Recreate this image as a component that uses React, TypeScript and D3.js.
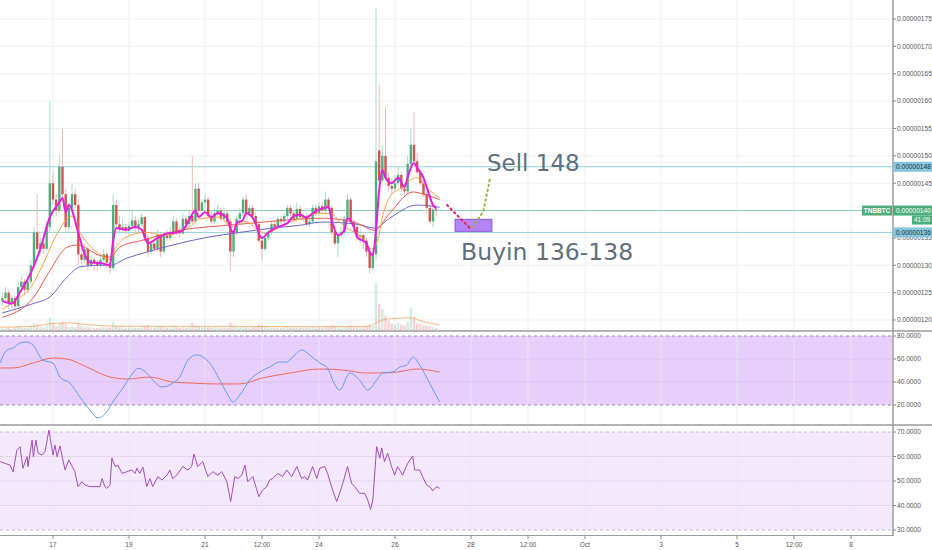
import React from "react";
import * as d3 from "d3";

// ---------- DATA ----------
// 2h candles of TNBBTC, prices in 1e-8 BTC, first bar 2018-09-15 16:00 UTC
// [open, high, low, close]
const candles: [number, number, number, number][] = [
  [123.5, 125, 122.5, 124], [124, 126, 123.5, 125], [125, 125.5, 122, 123], [123, 124.5, 122, 124], [124, 124.5, 121.5, 122.5],
  [122.5, 127, 122, 126], [126, 128, 125.5, 127], [127, 127.5, 124.5, 125.5], [125.5, 128, 125, 127], [127, 131, 126.5, 130],
  [130, 137, 129.5, 136], [136, 143, 132.5, 133], [133, 135, 132, 134], [134, 135, 132, 133], [133, 138, 132.5, 137],
  [137, 160, 136, 145], [145, 147, 141, 142], [142, 143, 139, 140], [140, 150, 139.5, 148], [148, 155, 142, 143],
  [143, 144, 136, 137], [137, 141.5, 136, 140.5], [140.5, 145, 140, 143], [143, 144, 140.5, 141], [141, 142, 130, 132],
  [132, 134, 130, 131], [131, 134, 130.5, 133], [133, 133.5, 129, 130], [130, 132, 129.5, 131], [131, 131.5, 129, 130.5],
  [130.5, 131, 129, 130], [130, 132, 129.5, 131], [131, 133, 130.5, 132], [132, 132.5, 129.5, 130.5], [130.5, 131, 128.5, 129.5],
  [129.5, 143, 129, 141], [141, 142, 137, 137.5], [137.5, 139, 136, 136.5], [136.5, 138.5, 136, 137], [137, 137.5, 135.5, 136.3],
  [136.3, 138, 135.5, 137.2], [137.2, 140, 137, 138.2], [138.2, 139, 136, 136.8], [136.8, 138.5, 136, 137.5], [137.5, 139.5, 137, 138.8],
  [138.8, 139, 134.5, 135], [135, 135.5, 131.5, 132.5], [132.5, 134.5, 132, 134], [134, 135, 132.5, 133], [133, 136.5, 132.5, 135.5],
  [135.5, 136, 131.5, 132.5], [132.5, 136, 132, 135.5], [135.5, 136.5, 134.5, 135], [135, 137, 134.5, 136], [136, 139, 135.5, 138],
  [138, 138.5, 135.5, 136], [136, 137, 135, 135.8], [135.8, 139.5, 135.5, 138.5], [138.5, 139, 137, 137.5], [137.5, 140, 137, 139],
  [139, 150, 137.5, 138], [138, 145, 137.5, 144], [144, 145, 139.5, 140], [140, 142, 139.5, 141.5], [141.5, 143, 140.5, 142],
  [142, 142.5, 138.5, 139], [139, 140, 137.5, 138], [138, 140.5, 137.5, 139.5], [139.5, 141, 139, 140], [140, 140.5, 138, 138.5],
  [138.5, 140.5, 138, 139.5], [139.5, 140, 137.5, 138], [138, 138.5, 129, 132.5], [132.5, 136.5, 131.5, 136], [136, 139, 135.5, 138.5],
  [138.5, 140.5, 138, 139.5], [139.5, 142.5, 139, 142], [142, 143, 139, 139.5], [139.5, 141, 139, 140.5], [140.5, 141, 138.5, 139],
  [139, 139.5, 137, 137.5], [137.5, 138, 134, 134.5], [134.5, 135, 131, 133], [133, 135.5, 132.5, 135], [135, 136.5, 134.5, 136],
  [136, 138, 135.5, 137.5], [137.5, 138, 136.5, 137], [137, 139, 136.5, 138.5], [138.5, 139, 137.5, 138], [138, 139.5, 137.5, 139],
  [139, 141, 138.5, 140.5], [140.5, 141, 139, 139.5], [139.5, 140, 138, 138.5], [138.5, 141.5, 138, 140.3], [140.3, 141, 138.5, 138.8],
  [138.8, 139.5, 138, 139], [139, 139.5, 137, 137.5], [137.5, 138.5, 137, 138], [138, 141, 137.5, 140.5], [140.5, 141, 139, 139.5],
  [139.5, 141.5, 139, 140.8], [140.8, 141.5, 139.5, 140], [140, 143.5, 139.5, 142], [142, 142.5, 140, 140.5], [140.5, 141, 135.5, 136],
  [136, 136.5, 133.5, 134], [134, 136, 131.5, 135.5], [135.5, 137, 135, 136], [136, 139, 135.5, 138.5], [138.5, 143, 138, 142],
  [142, 142.5, 137.5, 138], [138, 138.5, 136, 137], [137, 137.5, 134.5, 135.2], [135.2, 136.5, 134, 135.5], [135.5, 136, 133, 134.5],
  [134.5, 135, 131.5, 132.5], [132.5, 133, 128.5, 129.5], [129.5, 133, 129, 132], [132, 177, 131, 149], [151, 163, 145, 145.5],
  [145.5, 152, 145, 150], [150, 159, 145.5, 146], [146, 147, 143.5, 144.5], [144.5, 146, 143, 144], [144, 146.5, 143.5, 145],
  [145, 148, 144.5, 146.5], [146.5, 147, 143.5, 144], [144, 145, 142.5, 143.5], [143.5, 150, 143, 148.5], [148.5, 155, 148, 152],
  [152, 158, 148, 149], [149, 150.5, 146.5, 147], [147, 147.5, 144.5, 145], [145, 145.5, 142.5, 143], [143, 143.5, 139.5, 140.5],
  [140.5, 141, 137.5, 138], [138, 140.5, 137, 140.2], [140.2, 140.5, 139, 140],
];

const volumes: number[] = [
  5, 4, 6, 3, 5, 8, 6, 4, 5, 9,
  14, 12, 6, 5, 9, 26, 12, 8, 14, 18,
  12, 7, 9, 6, 14, 8, 6, 7, 5, 4,
  4, 5, 6, 5, 6, 18, 9, 6, 5, 4,
  5, 6, 5, 5, 6, 8, 10, 6, 5, 7,
  8, 6, 5, 5, 8, 6, 5, 7, 5, 6,
  15, 10, 8, 6, 7, 6, 5, 6, 5, 5,
  6, 5, 16, 9, 7, 6, 8, 6, 5, 6,
  6, 12, 10, 7, 6, 5, 5, 6, 5, 6,
  7, 5, 5, 6, 5, 5, 6, 5, 7, 5,
  6, 5, 7, 6, 10, 9, 7, 6, 6, 8,
  10, 7, 6, 6, 7, 8, 12, 9, 100, 55,
  45, 30, 20, 14, 12, 16, 12, 10, 18, 48,
  28, 14, 12, 10, 9, 8, 6, 5,
];

// [bar index, value]
const volumeMA: [number, number][] = [
  [-1, 6], [10, 8], [16, 14], [22, 15], [26, 12], [32, 9], [40, 8], [60, 8], [100, 7], [116, 8],
  [118, 15], [121, 23], [125, 25], [129, 26], [131, 22], [134, 16], [138, 11],
];

const emaFast: [number, number][] = [
  [0, 123.5], [3, 123], [6, 125.5], [9, 128.6], [12, 133], [15, 138.8], [18, 141.5], [19, 142.3], [20, 139.7], [21, 141],
  [24, 135.9], [26, 132], [28, 130.5], [31, 130.4], [34, 130], [35, 134.6], [36, 136.8], [39, 136.5], [42, 137], [44, 136.5],
  [46, 134], [49, 135], [52, 135.8], [55, 136], [57, 136.4], [59, 138.3], [61, 140], [62, 138.8], [64, 139.7], [66, 138.8],
  [68, 139.5], [71, 138.6], [72, 136.8], [73, 136], [74, 137.7], [76, 138.3], [77, 139.5], [80, 137.7], [81, 135.8], [82, 135],
  [84, 136], [87, 137], [90, 137.7], [92, 139], [94, 139.3], [96, 138.7], [98, 139.5], [101, 140.4], [103, 140.6], [104, 138.3],
  [106, 135.5], [108, 136.4], [109, 138.6], [111, 137], [112, 135.2], [115, 134], [116, 132.4], [117, 131.9], [118, 136.4], [119, 143.7],
  [120, 147.4], [121, 146], [123, 145], [125, 146], [127, 144.3], [128, 146.1], [130, 148.7], [131, 147.8], [133, 146], [134, 144.3],
  [135, 142.5], [136, 141], [137, 140.4],
];

const emaMid: [number, number][] = [
  [0, 122], [4, 123.5], [9, 126], [13.5, 131], [16.6, 135], [19.8, 138], [22, 139], [24.5, 136], [27.7, 133.5], [30.8, 132],
  [34, 131], [35.6, 133], [38.7, 135], [45, 136], [51.3, 135.5], [59.2, 137], [62.4, 138.5], [68.7, 138.8], [72.5, 137], [76.6, 138],
  [80.7, 136.5], [82.9, 135.8], [89.2, 137.5], [93.9, 138.5], [100.2, 139.5], [103.4, 139.5], [108.1, 137], [112.8, 135.5], [116.6, 133], [118.5, 134.5],
  [120.1, 139], [122.3, 142.5], [125.5, 144], [130.8, 146], [134.9, 143.7], [138.1, 142.3],
];

const emaSlow: [number, number][] = [
  [0, 120.5], [9.7, 124], [15, 129], [20.4, 133.3], [23.6, 133.7], [30.8, 131.8], [34, 131.5], [37.1, 133.3], [44.4, 134.6], [57, 136.5],
  [64.6, 137], [75, 137.5], [90.8, 138.3], [101.2, 138.6], [111.9, 137.7], [117.6, 136.4], [122.3, 139.5], [129.6, 143.4], [134, 142.8], [138.1, 142],
];

const emaLong: [number, number][] = [
  [0, 121.3], [9.7, 123], [15, 124.2], [20.4, 127.8], [24.5, 129.7], [30.8, 130], [34, 130], [39.3, 131.3], [45.6, 132.4], [53.8, 133.7],
  [64.6, 135.1], [75, 136], [85.4, 136.8], [93.9, 137.3], [101.2, 137.9], [111.9, 137.5], [117.6, 136.8], [122.3, 138.6], [130.8, 141], [138.1, 140.6],
];

const stochK: [number, number][] = [
  [-0.7, 56.5], [1.5, 67.8], [3.4, 69.5], [5.6, 73.9], [7.8, 74.8], [9.7, 72], [12.8, 59], [16, 56.5], [18.2, 44.3], [21.4, 39],
  [24.5, 27], [27.7, 15.6], [30.2, 8.7], [33, 14], [34.9, 22.6], [38.1, 34.8], [41.2, 47.8], [42.8, 52], [45.6, 47.8], [47.5, 41.7],
  [50.4, 35.7], [53.8, 39], [56, 44.3], [58.6, 59], [61.4, 63.5], [63.3, 61.7], [65.5, 56.5], [68.7, 41.7], [71.2, 28.7], [72.8, 22.6],
  [75, 28.7], [78.1, 41.7], [81.3, 48.7], [84.4, 53], [87.6, 57.4], [89.8, 57.4], [91.7, 61.7], [94.5, 67.8], [97.1, 63.5], [100.2, 56.5],
  [102.7, 52.2], [104.3, 41.7], [106.5, 33], [109.7, 47.8], [112.8, 41.7], [115.4, 33], [118.2, 41.7], [120.1, 47.8], [123.2, 48.7], [125.5, 53],
  [127.7, 54.8], [129.6, 61.7], [131.8, 54.8], [134.9, 39], [138.1, 22.6],
];

const stochD: [number, number][] = [
  [-0.7, 52.2], [3.4, 52.2], [9.7, 56.5], [16, 60.9], [20.4, 60], [26.7, 53], [34, 44.3], [39.3, 42.6], [46.6, 44.3], [53.8, 40],
  [60.2, 39], [67.7, 38.3], [75, 38.3], [82.2, 43.5], [90.8, 47.8], [100.2, 51.3], [107.5, 50.4], [115, 47.8], [123.2, 48.2], [130.8, 51.3],
  [138.1, 48.7],
];

const rsi: [number, number][] = [
  [-0.7, 57.9], [0.9, 57.2], [2.4, 56.5], [3.4, 53.8], [4.6, 62.6], [5.6, 64], [6.5, 55.2], [7.8, 59.9], [8.1, 55.9], [9.4, 66.7],
  [9.8, 59.9], [10.6, 66.7], [11.3, 61.4], [12.5, 60.6], [13.5, 62], [14.7, 70.8], [16, 60.6], [16.6, 64.7], [17.3, 59.9], [18.2, 64.3],
  [19.8, 54.5], [21, 58.6], [22.9, 53.8], [23.9, 47.7], [25.1, 49.7], [26.1, 48.4], [27.7, 47.7], [30.8, 47.7], [31.5, 51], [32.4, 47.7],
  [33, 47], [34, 48.4], [34.6, 59.4], [35.6, 55.9], [36.5, 56.5], [37.8, 53.1], [39.3, 53.8], [40.9, 54.5], [41.9, 53.1], [42.5, 55.2],
  [43.4, 53.1], [44.4, 55.7], [45.6, 47.7], [46.6, 51], [47.5, 47.7], [49.1, 51.8], [50.4, 50.4], [52, 52.4], [52.9, 54.5], [53.8, 51],
  [55.1, 52.4], [57, 55.9], [58.6, 54.5], [59.8, 55.9], [60.5, 61], [61.7, 55.9], [63.3, 57.9], [64.9, 51.8], [66.5, 53.8], [68, 52.4],
  [69.3, 53.8], [70.9, 49.7], [72.1, 41.6], [73.4, 51.8], [74.4, 51], [75.6, 52.4], [76.6, 56.5], [77.5, 49.7], [79.1, 51.8], [81, 43.6],
  [82.2, 46.3], [83.5, 47.7], [84.4, 50.4], [85.4, 51], [87, 53.1], [88.5, 51.8], [89.8, 54.5], [91.4, 51.8], [93, 55.9], [94.5, 51],
  [95.5, 51.8], [96.4, 50.4], [98, 55.9], [99.3, 51], [100.2, 55.2], [101.8, 55.9], [102.7, 53.1], [104.3, 46.3], [105.6, 41.6], [106.5, 45],
  [107.5, 49], [109, 55.9], [110.3, 49], [111.3, 47.7], [112.8, 45], [114.4, 45], [115.4, 42.2], [116.3, 38.4], [117, 42.2], [118.2, 64],
  [119.2, 59.3], [119.8, 63.5], [120.7, 57.9], [121.7, 61.3], [122.9, 55.9], [123.9, 52.4], [124.8, 55.9], [126.4, 52.4], [128, 57.2], [129.6, 60.2],
  [130.2, 54.5], [131.8, 54.5], [132.7, 51.8], [134, 48.4], [134.9, 47.7], [135.9, 46], [137.1, 47.7], [138.1, 47],
];

const priceTicks = [120, 125, 130, 135, 140, 145, 150, 155, 160, 165, 170, 175];
const stochTicks = [20, 40, 60, 80];
const rsiTicks = [30, 40, 50, 60, 70];
// [day offset from 2018-09-17 00:00 UTC, label]
const timeTicks: [number, string][] = [
  [0, "17"], [2, "19"], [4, "21"], [5.5, "12:00"], [7, "24"], [9, "26"], [11, "28"],
  [12.5, "12:00"], [14, "Oct"], [16, "3"], [18, "5"], [19.5, "12:00"], [21, "8"],
];

// horizontal levels (price)
const sellLevel = 148;
const lastPrice = 140;
const buyLevel = 136;
// drawn idea: [day offset, price]
const dropPath: [number, number][] = [[10.37, 141], [10.97, 136.8]];
const risePath: [number, number][] = [[11.03, 137], [11.32, 139.7], [11.5, 145.9]];
const buyBox = { d0: 10.58, d1: 11.55, p0: 136.2, p1: 138.4 };
const sellLabel = { d: 11.42, p: 147.2, text: "Sell 148" };
const buyLabel = { d: 10.74, p: 131.0, text: "Buyin 136-138" };

// ---------- CHART ----------
const W = 932;
const H = 550;
const HOUR = 3600 * 1000;
const DAY = 24 * HOUR;
const DAY0 = Date.UTC(2018, 8, 17);
const BAR0 = Date.UTC(2018, 8, 15, 16);
const PLOT_R = 892;
const AX_X = 893;

export default function App() {
  const x = d3.scaleUtc().domain([new Date(DAY0), new Date(DAY0 + 21 * DAY)]).range([53, 851]);
  const bx = (i: number) => x(new Date(BAR0 + i * 2 * HOUR));
  const dx = (d: number) => x(new Date(DAY0 + d * DAY));
  const yP = d3.scaleLinear().domain([120, 175]).range([320, 19]);
  const yV = d3.scaleLinear().domain([0, 100]).range([330, 283]);
  const yS = d3.scaleLinear().domain([20, 80]).range([405, 336]);
  const yR = d3.scaleLinear().domain([30, 70]).range([530, 432]);

  const lineOf = (y: (v: number) => number, curve: d3.CurveFactory) =>
    d3.line<[number, number]>().x((d) => bx(d[0])).y((d) => y(d[1])).curve(curve);
  const pLine = lineOf(yP, d3.curveMonotoneX);
  const vLine = lineOf(yV, d3.curveMonotoneX);
  const sLine = lineOf(yS, d3.curveMonotoneX);
  const rLine = d3.line<[number, number]>().x((d) => bx(d[0])).y((d) => yR(d[1])).curve(d3.curveLinear);
  const annLine = d3.line<[number, number]>().x((d) => dx(d[0])).y((d) => yP(d[1]));

  const green = "#4fae7e";
  const red = "#cf5450";
  const bodyW = 2.4;
  const axisFont = "'Liberation Sans', Arial, sans-serif";
  const noteFont = "'DejaVu Sans', Verdana, sans-serif";
  const fmtP = (p: number) => (p * 1e-8).toFixed(8);

  const priceBox = (p: number, bg: string, fg: string, label: string) => (
    <g>
      <rect x={AX_X} y={yP(p) - 5} width={W - AX_X} height={10} fill={bg} />
      <text x={AX_X + 3} y={yP(p) + 2.4} fontSize={6.6} fill={fg} fontFamily={axisFont}>{label}</text>
    </g>
  );

  return (
    <div style={{ position: "absolute", left: 0, top: 0, width: W, height: H, background: "#fff" }}>
      <svg width={W} height={H} viewBox={`0 0 ${W} ${H}`} style={{ display: "block" }}>
        <defs>
          <clipPath id="mainClip"><rect x={0} y={0} width={PLOT_R} height={330} /></clipPath>
          <clipPath id="stochClip"><rect x={0} y={332} width={PLOT_R} height={92} /></clipPath>
          <clipPath id="rsiClip"><rect x={0} y={426} width={PLOT_R} height={108} /></clipPath>
        </defs>
        <rect x={0} y={0} width={W} height={H} fill="#fff" />

        {/* lower panel fills */}
        <rect x={0} y={yS(80)} width={PLOT_R} height={yS(20) - yS(80)} fill="#e8cffb" />
        <rect x={0} y={yR(70)} width={PLOT_R} height={yR(30) - yR(70)} fill="#f4e8fc" />

        {/* vertical grid */}
        {timeTicks.map(([d], k) => (
          <line key={"vg" + k} x1={dx(d)} x2={dx(d)} y1={0} y2={535} stroke="#e9ecf0" strokeWidth={1} opacity={0.8} />
        ))}
        {/* horizontal grid */}
        {priceTicks.map((p) => (
          <line key={"hg" + p} x1={0} x2={PLOT_R} y1={yP(p)} y2={yP(p)} stroke="#edf0f3" strokeWidth={1} />
        ))}
        {[40, 60].map((v) => (
          <line key={"sg" + v} x1={0} x2={PLOT_R} y1={yS(v)} y2={yS(v)} stroke="#dcc3f0" strokeWidth={1} />
        ))}
        {[40, 50, 60].map((v) => (
          <line key={"rg" + v} x1={0} x2={PLOT_R} y1={yR(v)} y2={yR(v)} stroke="#e6d4f3" strokeWidth={1} />
        ))}
        {[80, 20].map((v) => (
          <line key={"sd" + v} x1={0} x2={PLOT_R} y1={yS(v)} y2={yS(v)} stroke="#9b86ad" strokeWidth={1} strokeDasharray="3,3" />
        ))}
        {[70, 30].map((v) => (
          <line key={"rd" + v} x1={0} x2={PLOT_R} y1={yR(v)} y2={yR(v)} stroke="#c7b2d6" strokeWidth={1} strokeDasharray="3,3" />
        ))}

        {/* horizontal levels */}
        <line x1={0} x2={PLOT_R} y1={yP(sellLevel)} y2={yP(sellLevel)} stroke="#8fd0d6" strokeWidth={1} />
        <line x1={0} x2={PLOT_R} y1={yP(lastPrice)} y2={yP(lastPrice)} stroke="#86c9b6" strokeWidth={1} />
        <line x1={0} x2={PLOT_R} y1={yP(buyLevel)} y2={yP(buyLevel)} stroke="#93cfe0" strokeWidth={1} />

        <g clipPath="url(#mainClip)">
          {/* volume */}
          {volumes.map((v, i) => {
            const c = candles[i];
            if (!c) return null;
            const up = c[3] >= c[0];
            return (
              <rect key={"v" + i} x={bx(i) - 1.2} y={yV(v)} width={2.4} height={yV(0) - yV(v)}
                fill={up ? green : red} opacity={0.25} />
            );
          })}
          <path d={vLine(volumeMA) || ""} fill="none" stroke="#f4a460" strokeWidth={1} opacity={0.8} />

          {/* candles */}
          {candles.map(([o, h, l, c], i) => {
            const up = c >= o;
            const top = yP(Math.max(o, c));
            const bot = yP(Math.min(o, c));
            return (
              <g key={"c" + i}>
                <line x1={bx(i)} x2={bx(i)} y1={yP(h)} y2={yP(l)} stroke={up ? "#a8dcc3" : "#efbdb8"} strokeWidth={1} />
                <rect x={bx(i) - bodyW / 2} y={top} width={bodyW} height={Math.max(1, bot - top)} fill={up ? green : red} />
              </g>
            );
          })}

          {/* moving averages */}
          <path d={pLine(emaLong) || ""} fill="none" stroke="#6f63d0" strokeWidth={1} />
          <path d={pLine(emaSlow) || ""} fill="none" stroke="#f0574d" strokeWidth={1} />
          <path d={pLine(emaMid) || ""} fill="none" stroke="#ffa13d" strokeWidth={1} />
          <path d={pLine(emaFast) || ""} fill="none" stroke="#e51ee0" strokeWidth={2} />

          {/* idea drawing */}
          <rect x={dx(buyBox.d0)} y={yP(buyBox.p1)} width={dx(buyBox.d1) - dx(buyBox.d0)} height={yP(buyBox.p0) - yP(buyBox.p1)}
            fill="#b683f6" stroke="#8a5ad8" strokeWidth={1} />
          <path d={annLine(dropPath) || ""} fill="none" stroke="#e0245e" strokeWidth={2} strokeDasharray="1.5,3.5" strokeLinecap="round" />
          <path d={annLine(risePath) || ""} fill="none" stroke="#9caf3c" strokeWidth={2} strokeDasharray="1.5,3.5" strokeLinecap="round" />
          <text x={dx(sellLabel.d)} y={yP(sellLabel.p)} fontSize={23} fill="#5f6f7c" fontFamily={noteFont}>{sellLabel.text}</text>
          <text x={dx(buyLabel.d)} y={yP(buyLabel.p)} fontSize={23.5} fill="#5f6f7c" fontFamily={noteFont}>{buyLabel.text}</text>
        </g>

        <g clipPath="url(#stochClip)">
          <path d={sLine(stochD) || ""} fill="none" stroke="#ef6a5a" strokeWidth={1} />
          <path d={sLine(stochK) || ""} fill="none" stroke="#5d9cf0" strokeWidth={1} />
        </g>
        <g clipPath="url(#rsiClip)">
          <path d={rLine(rsi) || ""} fill="none" stroke="#a24cbb" strokeWidth={1} />
        </g>

        {/* panel separators and axes */}
        <line x1={0} x2={W} y1={331} y2={331} stroke="#9a9a9a" strokeWidth={1.5} />
        <line x1={0} x2={W} y1={425} y2={425} stroke="#9a9a9a" strokeWidth={1.5} />
        <line x1={0} x2={AX_X} y1={535.5} y2={535.5} stroke="#9a9a9a" strokeWidth={1} />
        <line x1={AX_X} x2={AX_X} y1={0} y2={536} stroke="#9a9a9a" strokeWidth={1.5} />

        {/* price axis */}
        {priceTicks.map((p) => (
          <g key={"pt" + p}>
            <line x1={AX_X} x2={AX_X + 3} y1={yP(p)} y2={yP(p)} stroke="#888" />
            <text x={AX_X + 4} y={yP(p) + 2.4} fontSize={6.6} fill="#555" fontFamily={axisFont}>{fmtP(p)}</text>
          </g>
        ))}
        {stochTicks.map((v) => (
          <g key={"st" + v}>
            <line x1={AX_X} x2={AX_X + 3} y1={yS(v)} y2={yS(v)} stroke="#888" />
            <text x={AX_X + 4} y={yS(v) + 2.4} fontSize={6.6} fill="#555" fontFamily={axisFont}>{v.toFixed(4)}</text>
          </g>
        ))}
        {rsiTicks.map((v) => (
          <g key={"rt" + v}>
            <line x1={AX_X} x2={AX_X + 3} y1={yR(v)} y2={yR(v)} stroke="#888" />
            <text x={AX_X + 4} y={yR(v) + 2.4} fontSize={6.6} fill="#555" fontFamily={axisFont}>{v.toFixed(4)}</text>
          </g>
        ))}

        {/* level labels */}
        {priceBox(sellLevel, "#86c6dc", "#1f3442", fmtP(sellLevel))}
        {priceBox(buyLevel, "#86c6dc", "#1f3442", fmtP(buyLevel))}
        {priceBox(lastPrice, "#4caf7d", "#ffffff", fmtP(lastPrice))}
        <rect x={912} y={yP(lastPrice) + 5} width={20} height={9} fill="#4caf7d" />
        <text x={922} y={yP(lastPrice) + 11.8} fontSize={6.4} fill="#fff" textAnchor="middle" fontFamily={axisFont}>41:09</text>
        <rect x={862} y={yP(lastPrice) - 5} width={30} height={10} fill="#4caf7d" />
        <text x={877} y={yP(lastPrice) + 2.4} fontSize={6.4} fill="#fff" textAnchor="middle" fontWeight="bold" fontFamily={axisFont}>TNBBTC</text>

        {/* time axis */}
        {timeTicks.map(([d, label], k) => (
          <g key={"tt" + k}>
            <line x1={dx(d)} x2={dx(d)} y1={536} y2={539} stroke="#888" />
            <text x={dx(d)} y={547} fontSize={6.6} fill="#555" textAnchor="middle" fontFamily={axisFont}>{label}</text>
          </g>
        ))}
      </svg>
    </div>
  );
}
